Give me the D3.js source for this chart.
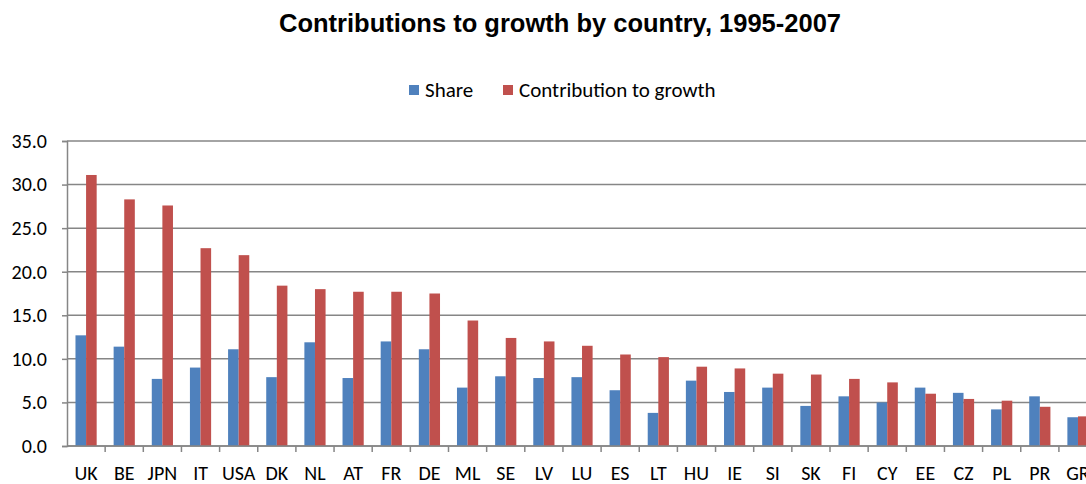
<!DOCTYPE html>
<html>
<head>
<meta charset="utf-8">
<script src="https://cdn.jsdelivr.net/npm/d3@7"></script>
<style>
  body { margin: 0; background: #fff; }
  svg { display: block; }
</style>
</head>
<body>
<script>
// countries in the order shown on the chart
const countries = ['UK', 'BE', 'JPN', 'IT', 'USA', 'DK', 'NL', 'AT', 'FR', 'DE', 'ML', 'SE', 'LV', 'LU',
  'ES', 'LT', 'HU', 'IE', 'SI', 'SK', 'FI', 'CY', 'EE', 'CZ', 'PL', 'PR', 'GR']
const share = [12.7, 11.4, 7.7, 9.0, 11.1, 7.9, 11.9, 7.8, 12.0, 11.1, 6.7, 8.0, 7.8, 7.9,
  6.4, 3.8, 7.5, 6.2, 6.7, 4.6, 5.7, 5.0, 6.7, 6.1, 4.2, 5.7, 3.3]
const contribution = [31.1, 28.3, 27.6, 22.7, 21.9, 18.4, 18.0, 17.7, 17.7, 17.5, 14.4, 12.4, 12.0, 11.5,
  10.5, 10.2, 9.1, 8.9, 8.3, 8.2, 7.7, 7.3, 6.0, 5.4, 5.2, 4.5, 3.4]
const yTicks = [0, 5, 10, 15, 20, 25, 30, 35]
const seriesNames = ['Share', 'Contribution to growth']
const colors = ['#4F81BD', '#C0504D']

const width = 1086, height = 484
const margin = {left: 67, top: 141, bottom: 38}
const font = 'Carlito, Calibri, "Open Sans", sans-serif'

const svg = d3.select('body').append('svg')
  .attr('width', width).attr('height', height)

// title
svg.append('text')
  .attr('x', 560).attr('y', 32)
  .attr('text-anchor', 'middle')
  .style('font-family', 'Arial, "Liberation Sans", sans-serif')
  .style('font-weight', 'bold')
  .style('font-size', '25.5px')
  .text('Contributions to growth by country, 1995-2007')

// legend
const legend = svg.append('g').attr('transform', 'translate(409,82)')
const legendX = [0, 94]
seriesNames.forEach((name, i) => {
  legend.append('rect')
    .attr('x', legendX[i]).attr('y', 3)
    .attr('width', 10).attr('height', 10)
    .attr('fill', colors[i])
  legend.append('text')
    .attr('x', legendX[i] + 16).attr('y', 14.5)
    .style('font-family', font)
    .style('font-size', '21px')
    .text(name)
})

// the plot runs past the right edge, like the original
const x = d3.scaleBand()
  .domain(countries)
  .range([margin.left, margin.left + 38.15 * countries.length])
const y = d3.scaleLinear()
  .domain([0, 35])
  .range([height - margin.bottom, margin.top])

const x1 = d3.scaleBand()
  .domain(seriesNames)
  .range([0, x.bandwidth()])
  .paddingOuter(0.8)

// gridlines
svg.append('g')
  .selectAll('line')
  .data(yTicks)
  .join('line')
  .attr('x1', margin.left).attr('x2', width)
  .attr('y1', d => y(d)).attr('y2', d => y(d))
  .attr('stroke', '#868686')
  .attr('stroke-width', 1.5)

// y axis
const yAxis = svg.append('g')
  .attr('transform', `translate(${margin.left},0)`)
  .call(d3.axisLeft(y).tickValues(yTicks).tickFormat(d3.format('.1f')).tickSize(5).tickPadding(15))
yAxis.select('.domain').attr('stroke', '#868686').attr('stroke-width', 1.5)
yAxis.selectAll('.tick line').attr('stroke', '#868686').attr('stroke-width', 1.5)
yAxis.selectAll('text')
  .style('font-family', font).style('font-size', '20px').attr('fill', '#000')

// bars
const groups = svg.append('g')
  .selectAll('g')
  .data(countries.map((c, i) => ({c, vals: [share[i], contribution[i]]})))
  .join('g')
  .attr('transform', d => `translate(${x(d.c)},0)`)
groups.selectAll('rect')
  .data(d => d.vals.map((v, i) => ({name: seriesNames[i], v, i})))
  .join('rect')
  .attr('x', d => x1(d.name))
  .attr('width', x1.bandwidth())
  .attr('y', d => y(d.v))
  .attr('height', d => y(0) - y(d.v))
  .attr('fill', d => colors[d.i])

// x axis with ticks between categories
const base = y(0)
svg.append('line')
  .attr('x1', margin.left).attr('x2', width)
  .attr('y1', base).attr('y2', base)
  .attr('stroke', '#868686').attr('stroke-width', 1.5)
svg.append('g')
  .selectAll('line')
  .data(countries)
  .join('line')
  .attr('x1', d => x(d) + x.bandwidth()).attr('x2', d => x(d) + x.bandwidth())
  .attr('y1', base).attr('y2', base + 6)
  .attr('stroke', '#868686').attr('stroke-width', 1.5)
svg.append('g')
  .selectAll('text')
  .data(countries)
  .join('text')
  .attr('x', d => x(d) + x.bandwidth() / 2)
  .attr('y', 480)
  .attr('text-anchor', 'middle')
  .style('font-family', font)
  .style('font-size', '20px')
  .text(d => d)
</script>
</body>
</html>
